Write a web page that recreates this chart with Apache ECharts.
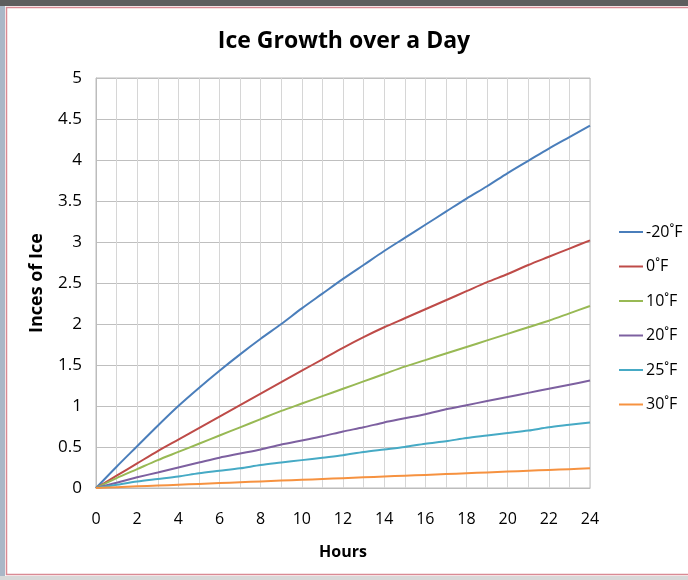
<!DOCTYPE html>
<html>
<head>
<meta charset="utf-8">
<script src="https://cdn.jsdelivr.net/npm/echarts@6/dist/echarts.min.js"></script>
<style>
  html, body { margin: 0; padding: 0; background: #ffffff; }
  #chart { width: 688px; height: 580px; }
</style>
</head>
<body>
<div id="chart"></div>
<script>
// Hours of freezing, 0..24
const hours = [0,1,2,3,4,5,6,7,8,9,10,11,12,13,14,15,16,17,18,19,20,21,22,23,24];

// Ice thickness (inches) for each air temperature
const minus20F = [0,0.26,0.51,0.76,1.00,1.22,1.43,1.63,1.82,2.00,2.19,2.37,2.55,2.72,2.89,3.05,3.21,3.37,3.53,3.68,3.84,3.99,4.14,4.28,4.42];
const zeroF    = [0,0.15,0.30,0.45,0.59,0.73,0.87,1.01,1.15,1.29,1.43,1.57,1.71,1.84,1.96,2.07,2.18,2.29,2.40,2.51,2.61,2.72,2.82,2.92,3.02];
const tenF     = [0,0.12,0.23,0.34,0.44,0.54,0.64,0.74,0.84,0.94,1.03,1.12,1.21,1.30,1.39,1.48,1.56,1.64,1.72,1.80,1.88,1.96,2.04,2.13,2.22];
const twentyF  = [0,0.065,0.13,0.19,0.25,0.31,0.37,0.42,0.47,0.53,0.58,0.63,0.69,0.74,0.80,0.85,0.90,0.96,1.01,1.06,1.11,1.16,1.21,1.26,1.31];
const t25F     = [0,0.04,0.08,0.11,0.14,0.18,0.21,0.24,0.28,0.31,0.34,0.37,0.40,0.44,0.47,0.50,0.54,0.57,0.61,0.64,0.67,0.70,0.74,0.77,0.80];
const t30F     = [0,0.01,0.02,0.03,0.04,0.05,0.06,0.07,0.08,0.09,0.10,0.11,0.12,0.13,0.14,0.15,0.16,0.17,0.18,0.19,0.20,0.21,0.22,0.23,0.24];

const seriesNames = ['-20˚F', '0˚F', '10˚F', '20˚F', '25˚F', '30˚F'];
const seriesData = [minus20F, zeroF, tenF, twentyF, t25F, t30F];
const colors = ['#4A7EBB', '#BE4B48', '#98B954', '#7D60A0', '#46AAC5', '#F69240'];

const font = '"Open Sans", "Noto Sans", sans-serif';

const chart = echarts.init(document.getElementById('chart'));
chart.setOption({
  animation: false,
  backgroundColor: '#ffffff',
  color: colors,
  title: {
    text: 'Ice Growth over a Day',
    left: 'center',
    top: 25,
    textStyle: { fontFamily: font, fontSize: 23, fontWeight: 'bold', color: '#000' }
  },
  graphic: [
    { type: 'rect', shape: { x: 0, y: 0, width: 688, height: 6 }, style: { fill: '#5e5e5e' }, silent: true },
    { type: 'rect', shape: { x: 0, y: 6, width: 5, height: 574 }, style: { fill: '#aab7c7' }, silent: true },
    { type: 'rect', shape: { x: 0, y: 576, width: 688, height: 4 }, style: { fill: '#d8d8d8' }, silent: true },
    { type: 'rect', shape: { x: 6.5, y: 7.5, width: 690, height: 567 }, style: { fill: null, stroke: '#d98a94', lineWidth: 1.5 }, silent: true }
  ],
  legend: {
    orient: 'vertical',
    left: 614,
    top: 218,
    icon: 'rect',
    itemWidth: 24,
    itemHeight: 2,
    itemGap: 16.5,
    textStyle: { fontFamily: font, fontSize: 16, lineHeight: 18, color: '#000', padding: [0, 0, 0, -2] },
    data: seriesNames
  },
  grid: {
    left: 96, right: 98, top: 78, bottom: 92,
    show: true, borderColor: '#bcbcbc', borderWidth: 1
  },
  xAxis: {
    type: 'value',
    min: 0, max: 24, interval: 1,
    name: 'Hours',
    nameLocation: 'middle',
    nameGap: 56,
    nameTextStyle: { fontFamily: font, fontSize: 16, fontWeight: 'bold', color: '#000' },
    axisLine: { show: true, lineStyle: { color: '#bcbcbc' } },
    axisTick: { show: false },
    axisLabel: {
      margin: 23,
      fontFamily: font, fontSize: 16, color: '#000',
      formatter: v => (v % 2 === 0 ? String(v) : '')
    },
    splitLine: { show: true, lineStyle: { color: '#d6d6d6' } }
  },
  yAxis: {
    type: 'value',
    min: 0, max: 5, interval: 0.5,
    name: 'Inces of Ice',
    nameLocation: 'middle',
    nameGap: 50,
    nameTextStyle: { fontFamily: font, fontSize: 18, fontWeight: 'bold', color: '#000' },
    axisLine: { show: true, lineStyle: { color: '#bcbcbc' } },
    axisTick: { show: false },
    axisLabel: { margin: 14, fontFamily: font, fontSize: 17, color: '#000' },
    splitLine: { show: true, lineStyle: { color: '#bfbfbf' } }
  },
  series: seriesNames.map((name, i) => ({
    name: name,
    type: 'line',
    symbol: 'none',
    smooth: 0.3,
    lineStyle: { width: 2, color: colors[i] },
    data: hours.map((h, j) => [h, seriesData[i][j]])
  }))
});
</script>
</body>
</html>
